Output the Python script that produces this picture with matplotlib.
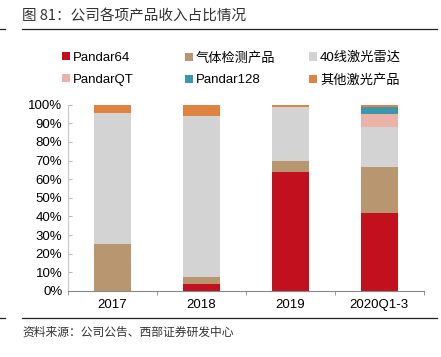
import numpy as np
import matplotlib.pyplot as plt
from matplotlib.patches import Patch
from matplotlib.lines import Line2D

plt.rcParams['font.family'] = ['Liberation Sans', 'Noto Sans CJK SC', 'DejaVu Sans']

# Data (share of revenue, %)
categories = ['2017', '2018', '2019', '2020Q1-3']
series_names = ['Pandar64', '气体检测产品', '40线激光雷达', 'PandarQT', 'Pandar128', '其他激光产品']
pandar64 = [0.0, 3.9, 63.8, 41.7]
gas = [25.0, 3.4, 5.7, 24.6]
lidar40 = [70.5, 86.8, 29.4, 21.8]
pandarqt = [0.0, 0.0, 0.0, 6.9]
pandar128 = [0.0, 0.0, 0.0, 3.9]
other = [4.5, 5.9, 1.1, 1.1]

colors = ['#C3101F', '#B8966F', '#D3D3D3', '#EBB2A7', '#3B97B0', '#DE8440']

fig = plt.figure(figsize=(4.41, 3.57), dpi=100)
ax = fig.add_axes([0.154, 0.185, 0.807, 0.522])

x = np.arange(len(categories))
bottom = np.zeros(len(categories))
for name, vals, c in zip(series_names, [pandar64, gas, lidar40, pandarqt, pandar128, other], colors):
    vals = np.array(vals) / 100
    ax.bar(x, vals, bottom=bottom, width=0.415, color=c, label=name)
    bottom += vals

ax.set_xlim(-0.5, len(categories) - 0.5)
ax.set_ylim(0, 1)
ax.set_yticks(np.arange(0, 1.01, 0.1))
ax.set_yticklabels([f'{int(round(v*100))}%' for v in np.arange(0, 1.01, 0.1)], fontsize=9.5)
ax.set_xticks(x)
ax.set_xticklabels(categories, fontsize=9.5)
ax.tick_params(axis='x', length=0, pad=6)
ax.set_xticks(np.arange(-0.5, len(categories)), minor=True)
ax.tick_params(axis='x', which='minor', length=3, color='#888888')
ax.tick_params(axis='y', direction='in', length=3, color='#BBBBBB', pad=4)
for s in ['top', 'right']:
    ax.spines[s].set_visible(False)
ax.spines['left'].set_color('#C8C8C8')
ax.spines['bottom'].set_color('#888888')

# legend: three fixed-width columns, two rows
handles = [Patch(facecolor=c, edgecolor='none') for c in colors]
col_x = [0.140, 0.419, 0.700]
for j in range(3):
    idx = [j, j + 3]
    fig.legend([handles[i] for i in idx], [series_names[i] for i in idx], loc='upper left',
               bbox_to_anchor=(col_x[j], 0.855), frameon=False, fontsize=9.5, handlelength=0.6,
               handleheight=0.6, handletextpad=0.25, labelspacing=0.75,
               borderaxespad=0, borderpad=0)

# title and source
fig.text(0.05, 0.957, '图 81：公司各项产品收入占比情况', fontsize=10.5, color='#333333', va='center',
         family=['Noto Sans CJK SC', 'DejaVu Sans'])
fig.text(0.05, 0.07, '资料来源：公司公告、西部证券研发中心', fontsize=8.5, color='#333333', va='center',
         family=['Noto Sans CJK SC', 'DejaVu Sans'])
for yy in [1 - 28.5 / 357, 1 - 318 / 357]:
    fig.add_artist(Line2D([0.05, 0.99], [yy, yy], color='#222222', lw=0.9))
    fig.add_artist(Line2D([0.0, 0.011], [yy, yy], color='#222222', lw=0.9))

plt.savefig('out.png', dpi=100)
